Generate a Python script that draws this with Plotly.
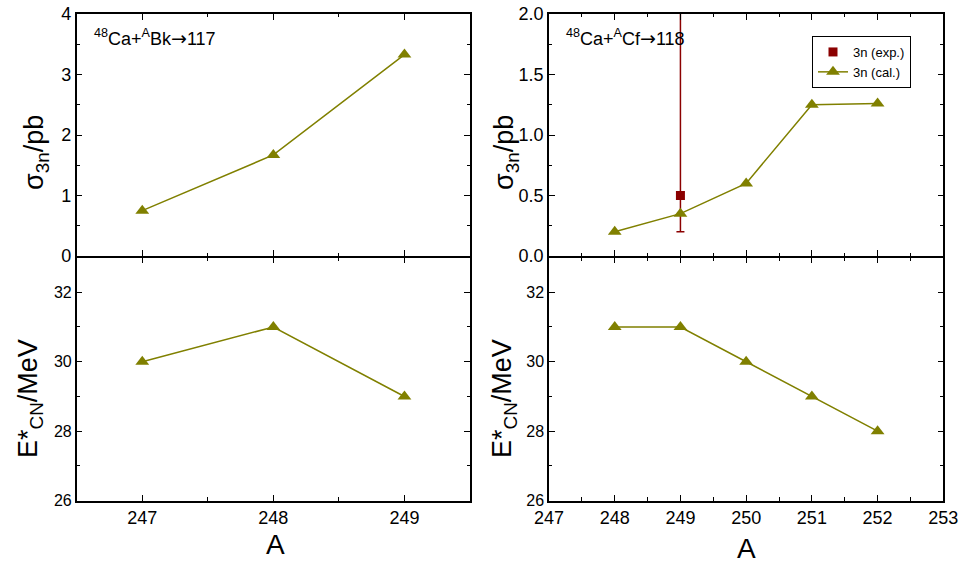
import plotly.graph_objects as go

# ---- data ----
A_bk = [247, 248, 249]
sigma_bk = [0.75, 1.67, 3.33]
E_bk = [30, 31, 29]

A_cf = [248, 249, 250, 251, 252]
sigma_cf = [0.2, 0.35, 0.6, 1.25, 1.26]
E_cf = [31, 31, 30, 29, 28]

A_exp = [249]
sigma_exp = [0.5]
sigma_exp_plus = [1.6]
sigma_exp_minus = [0.3]

OLIVE = "#808000"
DRED = "#8B0000"
FONT = "Liberation Sans, Arial, sans-serif"

fig = go.Figure()

def cal_trace(x, y, xa, ya, name, show):
    return go.Scatter(x=x, y=y, xaxis=xa, yaxis=ya, mode="lines+markers",
                      name=name, showlegend=show,
                      line=dict(color=OLIVE, width=1.5),
                      marker=dict(symbol="triangle-up", size=12, color=OLIVE))

fig.add_trace(cal_trace(A_bk, sigma_bk, "x", "y", "3n (cal.)", False))
fig.add_trace(cal_trace(A_bk, E_bk, "x3", "y3", "3n (cal.)", False))
fig.add_trace(go.Scatter(x=A_exp, y=sigma_exp, xaxis="x2", yaxis="y2", mode="markers",
                         name="3n (exp.)", showlegend=True,
                         marker=dict(symbol="square", size=9, color=DRED),
                         error_y=dict(type="data", symmetric=False, array=sigma_exp_plus,
                                      arrayminus=sigma_exp_minus, color=DRED,
                                      thickness=1.5, width=4)))
fig.add_trace(cal_trace(A_cf, sigma_cf, "x2", "y2", "3n (cal.)", True))
fig.add_trace(cal_trace(A_cf, E_cf, "x4", "y4", "3n (cal.)", False))

W, H = 961, 563
LW = 1.5
xl = [76.7 / W, 470 / W]
xr = [549 / W, 943.3 / W]
yt = [1 - 256.0 / H, 1 - 14 / H]
yb = [1 - 500.7 / H, 1 - (256.0 + LW) / H]

def axis_common(**kw):
    d = dict(showline=True, linecolor="black", linewidth=LW, mirror="allticks",
             ticks="inside", ticklen=6, tickwidth=1.2, tickcolor="black",
             showgrid=False, zeroline=False, automargin=False,
             tickfont=dict(family=FONT, size=18, color="black"),
             minor=dict(ticks="inside", ticklen=3.5, tickwidth=1.2, tickcolor="black", showgrid=False))
    d.update(kw)
    return d

layout = dict(
    width=W, height=H, autosize=False,
    margin=dict(l=0, r=0, t=0, b=0),
    plot_bgcolor="white", paper_bgcolor="white",
    font=dict(family=FONT, color="black"),
    xaxis=axis_common(domain=xl, anchor="y", range=[246.5, 249.5], dtick=1, tick0=247,
                      showticklabels=False, minor_dtick=0.5),
    yaxis=axis_common(domain=yt, anchor="x", range=[0, 4], dtick=1, tick0=0, minor_dtick=0.5),
    xaxis3=axis_common(domain=xl, anchor="y3", range=[246.5, 249.5], dtick=1, tick0=247,
                       minor_dtick=0.5),
    yaxis3=axis_common(domain=yb, anchor="x3", range=[26, 33], tickvals=[26, 28, 30, 32],
                       minor=dict(tickvals=[27, 29, 31, 33], ticks="inside", ticklen=3.5,
                                  tickwidth=1.2, tickcolor="black"),
                       tickfont=dict(family=FONT, size=16, color="black")),
    xaxis2=axis_common(domain=xr, anchor="y2", range=[247, 253], dtick=1, tick0=247,
                       showticklabels=False, minor_dtick=0.5),
    yaxis2=axis_common(domain=yt, anchor="x2", range=[0, 2], dtick=0.5, tick0=0,
                       tickformat=".1f", minor_dtick=0.25),
    xaxis4=axis_common(domain=xr, anchor="y4", range=[247, 253], dtick=1, tick0=247,
                       minor_dtick=0.5),
    yaxis4=axis_common(domain=yb, anchor="x4", range=[26, 33], tickvals=[26, 28, 30, 32],
                       minor=dict(tickvals=[27, 29, 31, 33], ticks="inside", ticklen=3.5,
                                  tickwidth=1.2, tickcolor="black"),
                       tickfont=dict(family=FONT, size=16, color="black")),
    legend=dict(x=812 / W, y=1 - 36 / H, xanchor="left", yanchor="top",
                bordercolor="black", borderwidth=1, bgcolor="white",
                font=dict(family=FONT, size=13, color="black"),
                tracegroupgap=0, itemwidth=30),
    showlegend=True,
)
fig.update_layout(**layout)

ann = []
def add_ann(text, x, y, size, angle=0, xanchor="center", yanchor="middle"):
    ann.append(dict(text=text, x=x / W, y=1 - y / H, xref="paper", yref="paper",
                    showarrow=False, textangle=angle, xanchor=xanchor, yanchor=yanchor,
                    font=dict(family=FONT, size=size, color="black")))

ARROW = '<span style="font-family:DejaVu Sans;font-size:19px">→</span>'
add_ann("<sup>48</sup>Ca+<sup>A</sup>Bk" + ARROW + "117", 92, 38, 18, xanchor="left")
add_ann("<sup>48</sup>Ca+<sup>A</sup>Cf" + ARROW + "118", 564, 38, 18, xanchor="left")
add_ann("σ<sub>3n</sub>/pb", 36, 153, 27, angle=-90)
add_ann("σ<sub>3n</sub>/pb", 506, 153, 27, angle=-90)
add_ann("E*<sub>CN</sub>/MeV", 30, 399, 27, angle=-90)
add_ann("E*<sub>CN</sub>/MeV", 504, 399, 27, angle=-90)
add_ann("A", 275, 544, 28)
add_ann("A", 746, 548, 28)
fig.update_layout(annotations=ann)

fig.write_html("out.html")
